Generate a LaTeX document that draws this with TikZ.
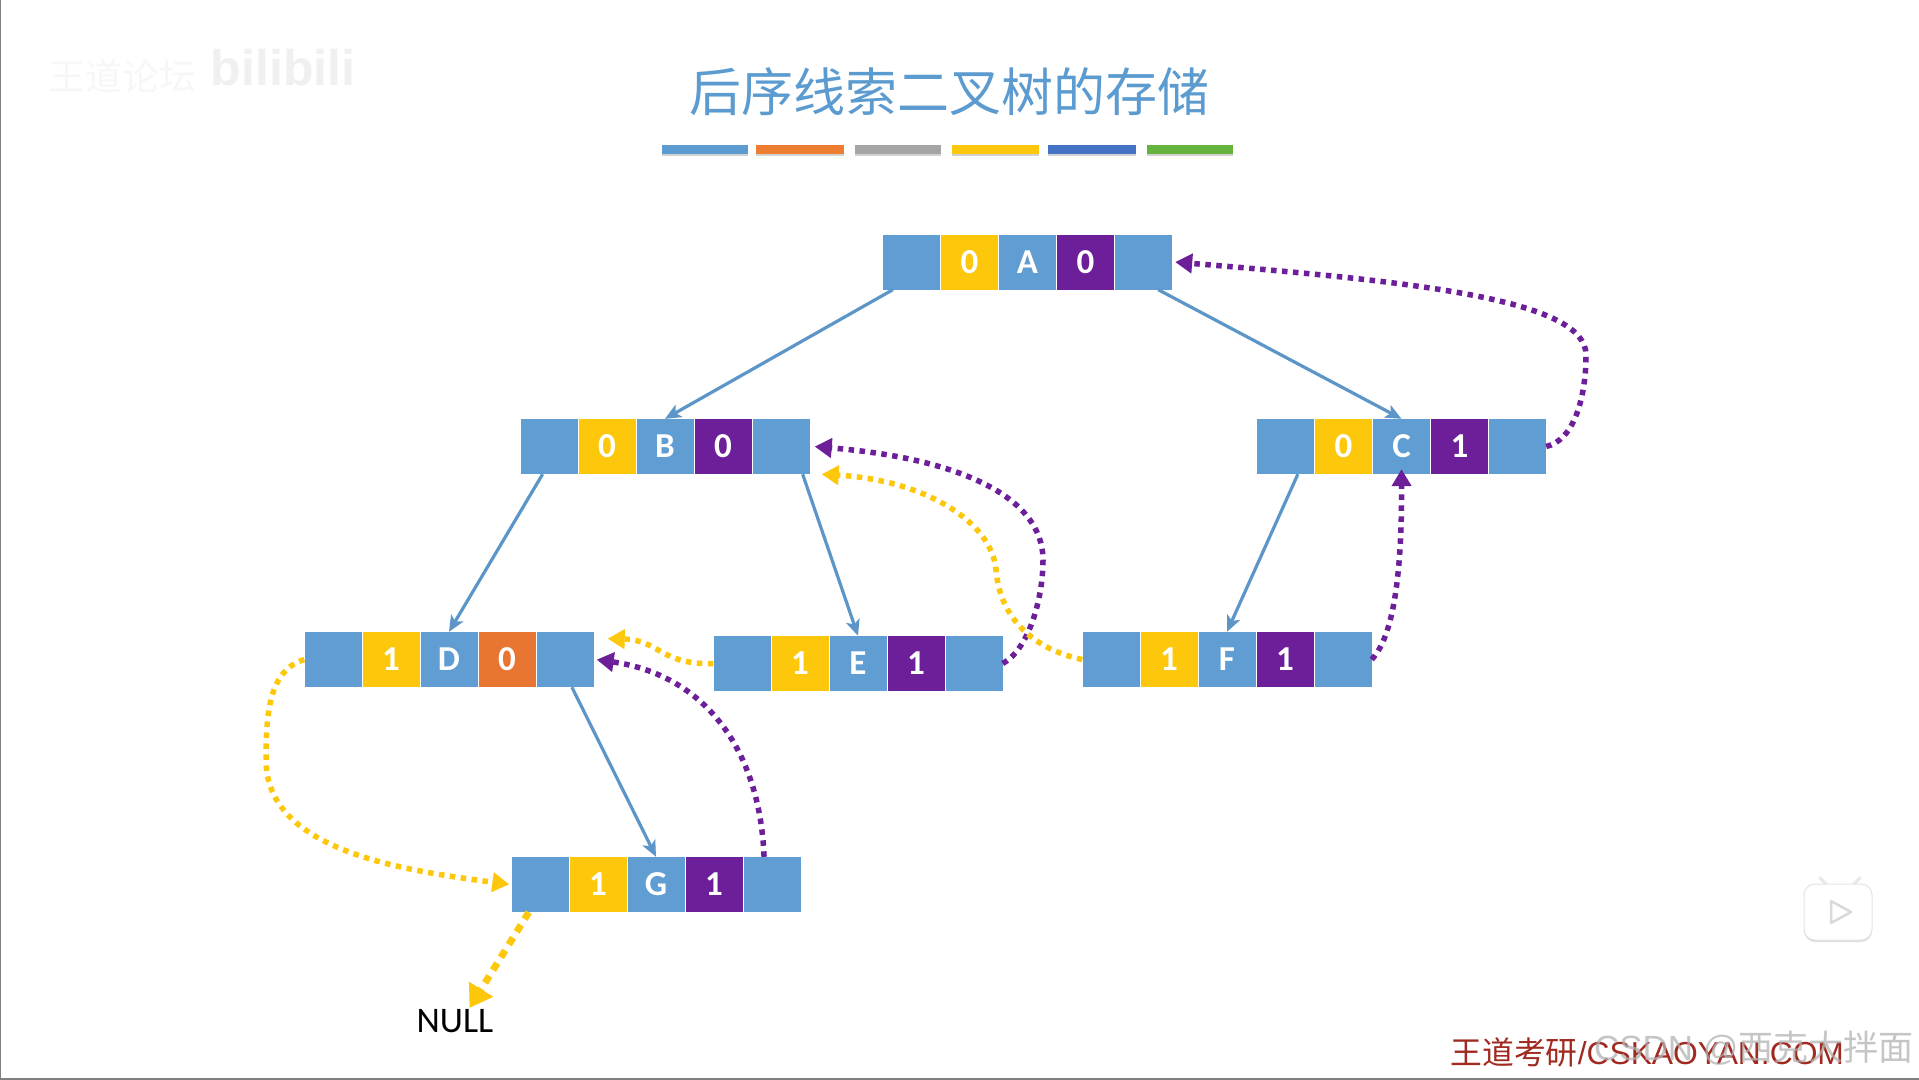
\documentclass[tikz,border=0pt]{standalone}
\usepackage{fontspec}
\setmainfont{Carlito}
\newfontfamily\cjk{Noto Sans CJK SC}
\newfontfamily\wmfont{Liberation Sans}
\usepackage{xcolor}
\usepackage{tikz}
\usetikzlibrary{arrows.meta,positioning,calc,shadows}

\definecolor{cellblue}{HTML}{5F9DD2}
\definecolor{cellyellow}{HTML}{FDC70C}
\definecolor{cellpurple}{HTML}{6C1F99}
\definecolor{cellorange}{HTML}{E87632}
\definecolor{titleblue}{HTML}{5B9BD0}
\definecolor{linkblue}{HTML}{5C96C8}
\definecolor{wmred}{HTML}{A02A20}
\definecolor{barorange}{HTML}{ED7D31}
\definecolor{bargray}{HTML}{A5A5A5}
\definecolor{barblue}{HTML}{4472C4}
\definecolor{bargreen}{HTML}{64B33D}

\tikzset{
  cell/.style={rectangle, fill=#1, minimum width=57pt, minimum height=55pt, inner sep=0pt,
    text=white, font=\fontsize{35}{40}\selectfont\bfseries},
  bar/.style={rectangle, fill=#1, minimum height=9pt, inner sep=0pt, drop shadow={shadow xshift=0pt, shadow yshift=-2pt, opacity=0.35}},
  link/.style={draw=linkblue, line width=3.2pt, -{Stealth[length=16pt,width=14pt,inset=4pt]}},
  threadp/.style={draw=cellpurple, line width=5.5pt, dash pattern=on 5.5pt off 5.5pt, -{Triangle[length=17pt,width=19pt]}, shorten >=1pt},
  thready/.style={draw=cellyellow, line width=5.5pt, dash pattern=on 5.5pt off 5.5pt, -{Triangle[length=17pt,width=19pt]}, shorten >=1pt}
}

% #1 name, #2 x, #3 y, #4 left flag, #5 its colour, #6 data, #7 right flag, #8 its colour
\newcommand{\threadrec}[8]{
  \node[cell=cellblue] (#11) at (#2-116,#3) {};
  \node[cell=#5] (#12) at (#2-58,#3) {#4};
  \node[cell=cellblue] (#13) at (#2,#3) {#6};
  \node[cell=#8] (#14) at (#2+58,#3) {#7};
  \node[cell=cellblue] (#15) at (#2+116,#3) {};
}

\begin{document}
\begin{tikzpicture}[x=1pt, y=-1pt]
  \useasboundingbox (0,0) rectangle (1919,1079);
  \fill[white] (0,0) rectangle (1919,1079);
  \draw[gray, line width=2pt] (0,0) -- (0,1079) -- (1919,1079);

  \node[text=gray!12, font=\wmfont\fontsize{50}{60}\selectfont\bfseries] (logo) at (283,68) {bilibili};
  \node[text=black!3, font=\cjk\fontsize{37}{40}\selectfont] (forum) at (122,76) {王道论坛};

  \node[text=titleblue, font=\cjk\fontsize{52}{60}\selectfont] (title) at (949,92) {后序线索二叉树的存储};

  \node[bar=titleblue, minimum width=86pt] (bar1) at (705,149) {};
  \node[bar=barorange, minimum width=88pt] (bar2) at (799.5,149) {};
  \node[bar=bargray, minimum width=86pt] (bar3) at (898,149) {};
  \node[bar=cellyellow, minimum width=87pt] (bar4) at (995.5,149) {};
  \node[bar=barblue, minimum width=88pt] (bar5) at (1092,149) {};
  \node[bar=bargreen, minimum width=86pt] (bar6) at (1190,149) {};

  \threadrec{A}{1027.5}{262}{0}{cellyellow}{A}{0}{cellpurple}
  \threadrec{B}{665}{446.5}{0}{cellyellow}{B}{0}{cellpurple}
  \threadrec{C}{1401.5}{446.5}{0}{cellyellow}{C}{1}{cellpurple}
  \threadrec{D}{449}{659.5}{1}{cellyellow}{D}{0}{cellorange}
  \threadrec{E}{858}{663.5}{1}{cellyellow}{E}{1}{cellpurple}
  \threadrec{F}{1227}{659.5}{1}{cellyellow}{F}{1}{cellpurple}
  \threadrec{G}{656}{884.5}{1}{cellyellow}{G}{1}{cellpurple}

  \node[text=black, font=\fontsize{36}{40}\selectfont] (null) at (455,1021) {NULL};

  \draw[link] (A1.-124) -- (B3.north);
  \draw[link] (A5.-62) -- (C3.north);
  \draw[link] (B1.-103) -- (D3.north);
  \draw[link] (B5.-52) -- (E3.north);
  \draw[link] (C1.-66) -- (F3.north);
  \draw[link] (D5.-76) -- (G3.north);

  \draw[threadp] (C5.east) .. controls (1575,440) and (1586,395) .. (1586,355)
    .. controls (1586,300) and (1420,282) .. ([xshift=2pt]A5.east);
  \draw[threadp] (E5.east) .. controls (1028,650) and (1043,600) .. (1043,560)
    .. controls (1043,495) and (955,458) .. ([xshift=4pt]B5.east);
  \draw[threadp] (F5.east) .. controls (1390,640) and (1402,590) .. ([yshift=6pt]C3.south);
  \draw[threadp] (G5.106) .. controls (760,750) and (705,675) .. ([xshift=2pt]D5.east);

  \draw[thready] (F1.west) .. controls (1036,650) and (1000,620) .. (996,570)
    .. controls (992,522) and (925,480) .. ([xshift=11pt]B5.south east);
  \draw[thready] (E1.west) .. controls (660,665) and (660,640) .. ([xshift=13pt]D5.36);
  \draw[thready] (D1.west) .. controls (270,670) and (266,710) .. (266,760)
    .. controls (266,850) and (400,870) .. ([xshift=-1pt]G1.west);
  \draw[thready, line width=7pt, dash pattern=on 8pt off 7pt, -{Triangle[length=22pt,width=27pt]}] (G1.-112) -- ([xshift=14pt,yshift=-3pt]null.north);

  \node[text=wmred, font=\wmfont\fontsize{31.8}{40}\selectfont, anchor=west] (wm) at (1447,1052) {{\cjk 王道考研}/CSKAOYAN.COM};
  \node[text=gray!60, opacity=0.75, font=\wmfont\fontsize{35}{40}\selectfont, anchor=east] (csdn) at (1917,1048) {CSDN @{\cjk 西克大拌面}};

  \draw[gray!18, line width=3pt, line cap=round] (1820,878) -- (1829,887);
  \draw[gray!18, line width=3pt, line cap=round] (1860,878) -- (1851,887);
  \node[rectangle, rounded corners=11pt, draw=gray!22, line width=1pt, fill=white, drop shadow={shadow xshift=0pt, shadow yshift=-2pt, opacity=0.25},
    minimum width=68pt, minimum height=56pt] (tv) at (1838,912) {};
  \draw[gray!30, line width=2.5pt, line join=round] (1831,901) -- (1851,912) -- (1831,923) -- cycle;
\end{tikzpicture}
\end{document}
